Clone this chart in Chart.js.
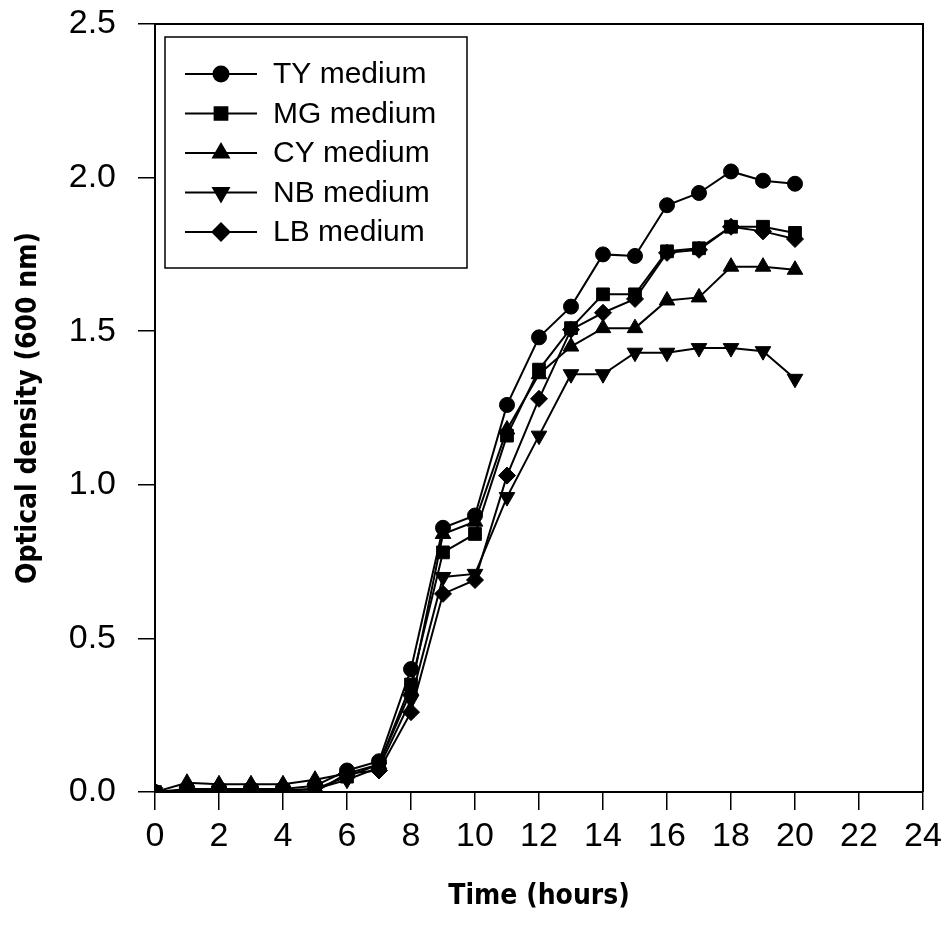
<!DOCTYPE html>
<html>
<head>
<meta charset="utf-8">
<script src="https://cdn.jsdelivr.net/npm/chart.js@4.4.1/dist/chart.umd.min.js"></script>
<style>
  html, body { margin: 0; padding: 0; background: #fff; }
  #wrap { width: 949px; height: 936px; position: relative; }
</style>
</head>
<body>
<div id="wrap"><canvas id="c" width="949" height="936"></canvas></div>
<script>
const hours = [0, 1, 2, 3, 4, 5, 6, 7, 8, 9, 10, 11, 12, 13, 14, 15, 16, 17, 18, 19, 20];
const seriesNames = ['TY medium', 'MG medium', 'CY medium', 'NB medium', 'LB medium'];
const tyMedium = [0, 0.01, 0.01, 0.01, 0.01, 0.02, 0.07, 0.10, 0.40, 0.86, 0.90, 1.26, 1.48, 1.58, 1.75, 1.745, 1.91, 1.95, 2.02, 1.99, 1.98];
const mgMedium = [0, 0.005, 0.005, 0.005, 0.005, 0.01, 0.05, 0.09, 0.35, 0.78, 0.84, 1.16, 1.375, 1.51, 1.62, 1.62, 1.76, 1.77, 1.84, 1.84, 1.82];
const cyMedium = [0, 0.03, 0.025, 0.025, 0.025, 0.04, 0.06, 0.09, 0.33, 0.84, 0.88, 1.18, 1.36, 1.45, 1.51, 1.51, 1.60, 1.61, 1.71, 1.71, 1.70];
const nbMedium = [0, 0.005, 0.005, 0.005, 0.005, 0.01, 0.04, 0.08, 0.30, 0.70, 0.71, 0.96, 1.16, 1.36, 1.36, 1.43, 1.43, 1.445, 1.445, 1.435, 1.345];
const lbMedium = [0, 0.005, 0.005, 0.005, 0.005, 0.0, 0.06, 0.07, 0.26, 0.645, 0.69, 1.03, 1.28, 1.505, 1.56, 1.605, 1.755, 1.765, 1.84, 1.825, 1.80];
const xTicks = [0, 2, 4, 6, 8, 10, 12, 14, 16, 18, 20, 22, 24];
const yTicks = [0.0, 0.5, 1.0, 1.5, 2.0, 2.5];

const seriesValues = [tyMedium, mgMedium, cyMedium, nbMedium, lbMedium];
const markerStyles = [
  { pointStyle: 'circle', rotation: 0, radius: 7.5 },
  { pointStyle: 'rect', rotation: 0, radius: 9 },
  { pointStyle: 'triangle', rotation: 0, radius: 9 },
  { pointStyle: 'triangle', rotation: 180, radius: 9 },
  { pointStyle: 'rectRot', rotation: 0, radius: 8.5 }
];

const datasets = seriesNames.map((name, i) => ({
  label: name,
  data: hours.map((h, j) => ({ x: h, y: seriesValues[i][j] })),
  borderColor: '#000',
  backgroundColor: '#000',
  borderWidth: 2,
  pointStyle: markerStyles[i].pointStyle,
  rotation: markerStyles[i].rotation,
  pointRadius: markerStyles[i].radius,
  pointBorderWidth: 1,
  pointBackgroundColor: '#000',
  pointBorderColor: '#000',
  tension: 0,
  fill: false
}));

const tickFont = { family: "'Liberation Sans', Arial, sans-serif", size: 34 };
const titleFont = { family: "'Liberation Sans Narrow', 'Arial Narrow', 'DejaVu Sans Condensed', sans-serif", size: 28, weight: 'bold' };

const framePlugin = {
  id: 'frame',
  afterDatasetsDraw(chart) {
    const { ctx, chartArea: a } = chart;
    ctx.save();
    ctx.strokeStyle = '#000';
    ctx.lineWidth = 2;
    ctx.beginPath();
    ctx.moveTo(a.left, a.top);
    ctx.lineTo(a.right, a.top);
    ctx.lineTo(a.right, a.bottom);
    ctx.stroke();
    ctx.restore();
  }
};

const legendPlugin = {
  id: 'insideLegend',
  afterDraw(chart) {
    const { ctx } = chart;
    const boxL = 165, boxT = 37, boxW = 302, boxH = 231;
    ctx.save();
    ctx.fillStyle = '#fff';
    ctx.fillRect(boxL, boxT, boxW, boxH);
    ctx.strokeStyle = '#000';
    ctx.lineWidth = 1.5;
    ctx.strokeRect(boxL, boxT, boxW, boxH);
    ctx.font = "30px 'Liberation Sans', Arial, sans-serif";
    ctx.textBaseline = 'middle';
    ctx.textAlign = 'left';
    chart.data.datasets.forEach((ds, i) => {
      const y = boxT + 37 + i * 39.5;
      ctx.strokeStyle = '#000';
      ctx.lineWidth = 2;
      ctx.beginPath();
      ctx.moveTo(185, y);
      ctx.lineTo(257, y);
      ctx.stroke();
      ctx.fillStyle = '#000';
      Chart.helpers.drawPoint(ctx, {
        pointStyle: ds.pointStyle,
        rotation: ds.rotation,
        radius: ds.pointRadius,
        borderWidth: 1
      }, 221, y);
      ctx.fillStyle = '#000';
      ctx.fillText(ds.label, 273, y + 1);
    });
    ctx.restore();
  }
};

new Chart(document.getElementById('c'), {
  type: 'line',
  data: { datasets },
  options: {
    responsive: false,
    animation: false,
    devicePixelRatio: 1,
    layout: { padding: { top: 24, right: 26, left: 0, bottom: 0 } },
    plugins: {
      legend: { display: false },
      tooltip: { enabled: false }
    },
    scales: {
      x: {
        type: 'linear',
        min: 0,
        max: 24,
        afterBuildTicks: (scale) => { scale.ticks = xTicks.map(v => ({ value: v })); },
        afterFit: (scale) => { scale.height = 144; scale.paddingRight = 20; scale.paddingLeft = 20; },
        ticks: {
          color: '#000',
          font: tickFont,
          padding: 6,
          maxRotation: 0,
          autoSkip: false,
          callback: (v) => String(v)
        },
        grid: {
          display: true,
          drawOnChartArea: false,
          drawTicks: true,
          tickLength: 18,
          color: '#000',
          lineWidth: 1.5
        },
        border: { display: true, color: '#000', width: 2 },
        title: {
          display: true,
          text: 'Time (hours)',
          color: '#000',
          font: titleFont,
          padding: { top: 0, bottom: 22 }
        }
      },
      y: {
        type: 'linear',
        min: 0,
        max: 2.5,
        afterBuildTicks: (scale) => { scale.ticks = yTicks.map(v => ({ value: v })); },
        afterFit: (scale) => { scale.width = 155; scale.paddingTop = 20; scale.paddingBottom = 20; },
        ticks: {
          color: '#000',
          font: tickFont,
          padding: 22,
          autoSkip: false,
          callback: (v) => Number(v).toFixed(1)
        },
        grid: {
          display: true,
          drawOnChartArea: false,
          drawTicks: true,
          tickLength: 17,
          color: '#000',
          lineWidth: 1.5
        },
        border: { display: true, color: '#000', width: 2 },
        title: {
          display: true,
          text: 'Optical density (600 nm)',
          color: '#000',
          font: titleFont,
          padding: { top: 12, bottom: 0 }
        }
      }
    }
  },
  plugins: [framePlugin, legendPlugin]
});
</script>
</body>
</html>
